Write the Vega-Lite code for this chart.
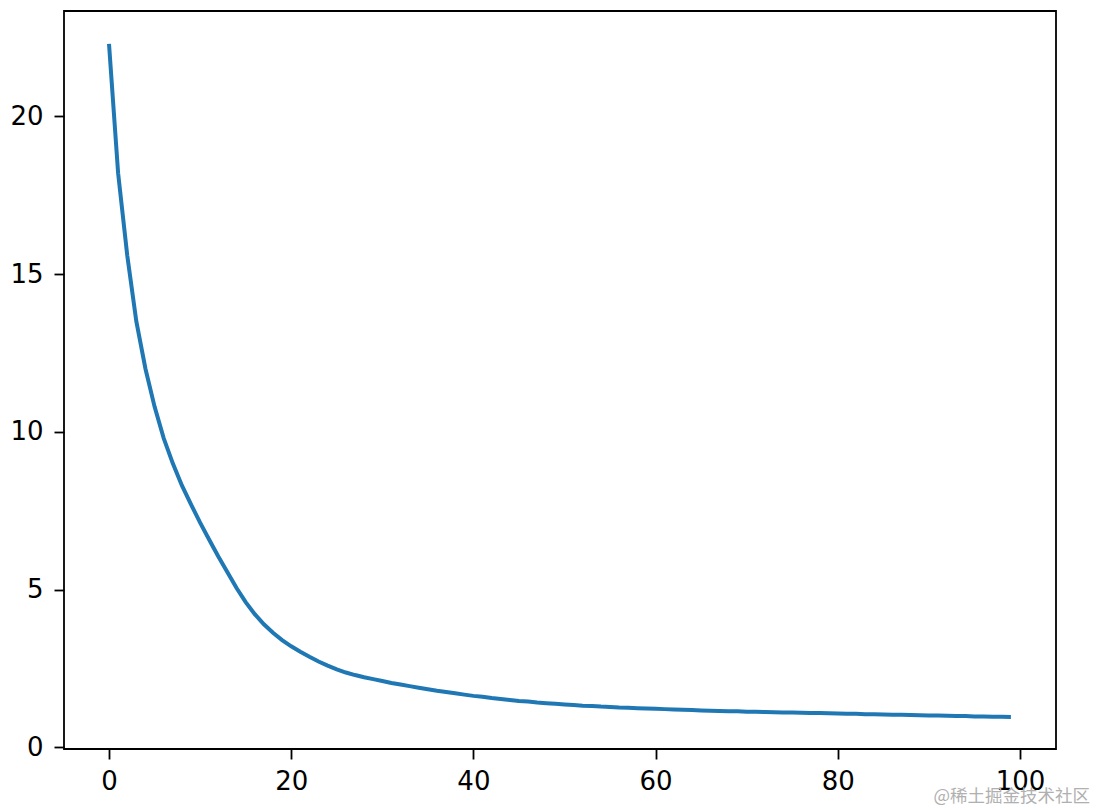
{
  "$schema": "https://vega.github.io/schema/vega-lite/v6.json",
  "width": 992,
  "height": 738,
  "autosize": {"type": "none"},
  "padding": {"left": 64, "top": 11, "right": 40, "bottom": 61},
  "background": "white",
  "config": {
    "view": {"stroke": "#000", "strokeWidth": 1.8},
    "axis": {
      "domain": false,
      "grid": false,
      "ticks": true,
      "tickColor": "#000",
      "tickWidth": 1.8,
      "tickSize": 10,
      "labelFont": "DejaVu Sans",
      "labelFontSize": 26,
      "labelColor": "#000",
      "title": null
    }
  },
  "title": {
    "text": "@稀土掘金技术社区",
    "orient": "bottom",
    "anchor": "end",
    "dx": 34,
    "offset": -6,
    "font": "Noto Sans CJK SC",
    "fontSize": 17.5,
    "fontWeight": "normal",
    "color": "#b0b0b0"
  },
  "data": {
    "values": [
      {"x": 0, "y": 22.3}, {"x": 1, "y": 18.2}, {"x": 2, "y": 15.6}, {"x": 3, "y": 13.5}, {"x": 4, "y": 12.0},
      {"x": 5, "y": 10.8}, {"x": 6, "y": 9.8}, {"x": 7, "y": 9.0}, {"x": 8, "y": 8.3}, {"x": 9, "y": 7.7},
      {"x": 10, "y": 7.12}, {"x": 11, "y": 6.58}, {"x": 12, "y": 6.05}, {"x": 13, "y": 5.55}, {"x": 14, "y": 5.05},
      {"x": 15, "y": 4.6}, {"x": 16, "y": 4.22}, {"x": 17, "y": 3.9}, {"x": 18, "y": 3.63}, {"x": 19, "y": 3.4},
      {"x": 20, "y": 3.2}, {"x": 21, "y": 3.03}, {"x": 22, "y": 2.87}, {"x": 23, "y": 2.72}, {"x": 24, "y": 2.59},
      {"x": 25, "y": 2.47}, {"x": 26, "y": 2.37}, {"x": 27, "y": 2.29}, {"x": 28, "y": 2.22}, {"x": 29, "y": 2.16},
      {"x": 30, "y": 2.1}, {"x": 31, "y": 2.04}, {"x": 32, "y": 1.99}, {"x": 33, "y": 1.94}, {"x": 34, "y": 1.89},
      {"x": 35, "y": 1.84}, {"x": 36, "y": 1.79}, {"x": 37, "y": 1.75}, {"x": 38, "y": 1.71}, {"x": 39, "y": 1.67},
      {"x": 40, "y": 1.63}, {"x": 41, "y": 1.6}, {"x": 42, "y": 1.56}, {"x": 43, "y": 1.53}, {"x": 44, "y": 1.5},
      {"x": 45, "y": 1.47}, {"x": 46, "y": 1.45}, {"x": 47, "y": 1.42}, {"x": 48, "y": 1.4}, {"x": 49, "y": 1.38},
      {"x": 50, "y": 1.36}, {"x": 51, "y": 1.34}, {"x": 52, "y": 1.32}, {"x": 53, "y": 1.31}, {"x": 54, "y": 1.29},
      {"x": 55, "y": 1.28}, {"x": 56, "y": 1.26}, {"x": 57, "y": 1.25}, {"x": 58, "y": 1.24}, {"x": 59, "y": 1.23},
      {"x": 60, "y": 1.22}, {"x": 61, "y": 1.21}, {"x": 62, "y": 1.2}, {"x": 63, "y": 1.19}, {"x": 64, "y": 1.18},
      {"x": 65, "y": 1.17}, {"x": 66, "y": 1.16}, {"x": 67, "y": 1.15}, {"x": 68, "y": 1.145}, {"x": 69, "y": 1.14},
      {"x": 70, "y": 1.13}, {"x": 71, "y": 1.125}, {"x": 72, "y": 1.12}, {"x": 73, "y": 1.11}, {"x": 74, "y": 1.105},
      {"x": 75, "y": 1.1}, {"x": 76, "y": 1.095}, {"x": 77, "y": 1.09}, {"x": 78, "y": 1.085}, {"x": 79, "y": 1.08},
      {"x": 80, "y": 1.07}, {"x": 81, "y": 1.065}, {"x": 82, "y": 1.06}, {"x": 83, "y": 1.05}, {"x": 84, "y": 1.045},
      {"x": 85, "y": 1.04}, {"x": 86, "y": 1.035}, {"x": 87, "y": 1.03}, {"x": 88, "y": 1.02}, {"x": 89, "y": 1.015},
      {"x": 90, "y": 1.01}, {"x": 91, "y": 1.005}, {"x": 92, "y": 1.0}, {"x": 93, "y": 0.995}, {"x": 94, "y": 0.99},
      {"x": 95, "y": 0.98}, {"x": 96, "y": 0.975}, {"x": 97, "y": 0.97}, {"x": 98, "y": 0.965}, {"x": 99, "y": 0.96}
    ]
  },
  "mark": {"type": "line", "color": "#1f77b4", "strokeWidth": 4, "clip": true},
  "encoding": {
    "x": {
      "field": "x",
      "type": "quantitative",
      "scale": {"domain": [-4.94, 103.95], "nice": false, "zero": false},
      "axis": {"values": [0, 20, 40, 60, 80, 100], "labelPadding": 9, "format": "d"}
    },
    "y": {
      "field": "y",
      "type": "quantitative",
      "scale": {"domain": [-0.054, 23.34], "nice": false, "zero": false},
      "axis": {"values": [0, 5, 10, 15, 20], "labelPadding": 11, "format": "d"}
    }
  }
}
